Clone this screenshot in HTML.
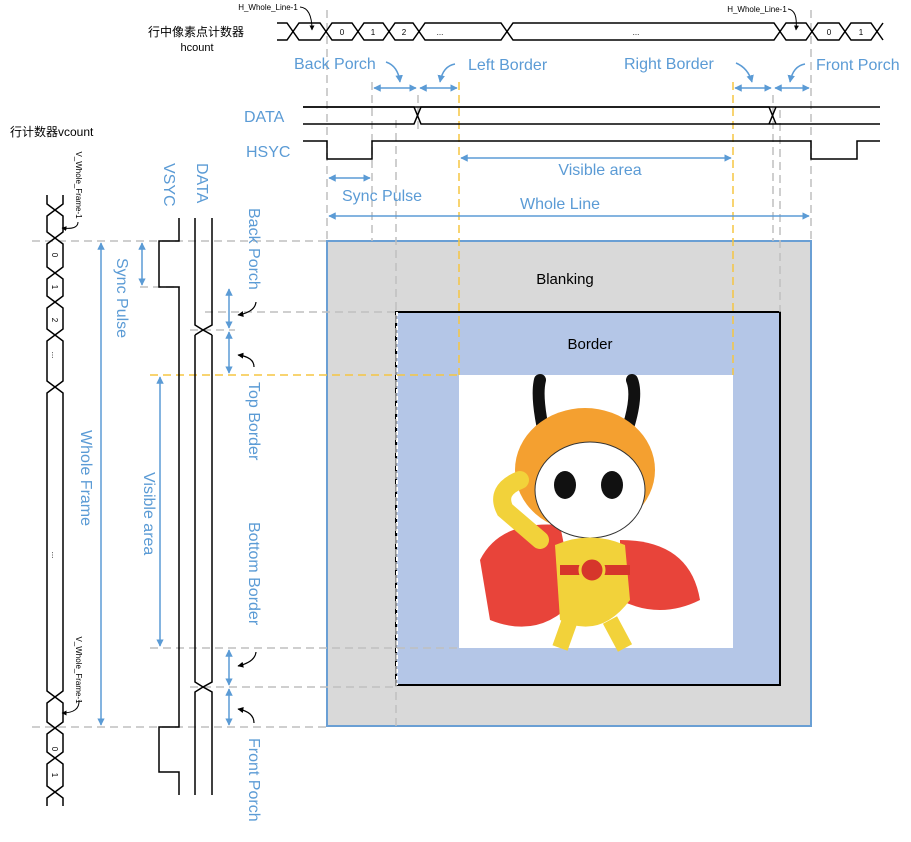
<!DOCTYPE html>
<html><head><meta charset="utf-8"><style>body{margin:0;background:#fff}svg{display:block}</style></head><body>
<svg width="911" height="842" viewBox="0 0 911 842" xmlns="http://www.w3.org/2000/svg" font-family="Liberation Sans, Noto Sans CJK SC, sans-serif">
<defs>
<marker id="a" viewBox="0 0 10 10" refX="9" refY="5" markerWidth="5" markerHeight="5" orient="auto-start-reverse"><path d="M0,0L10,5L0,10z" fill="#5b9bd5"/></marker>
<marker id="k" viewBox="0 0 10 10" refX="9" refY="5" markerWidth="5" markerHeight="5" orient="auto"><path d="M0,0L10,5L0,10z" fill="#000"/></marker>
</defs>
<!-- big rects -->
<rect x="327" y="241" width="484" height="485" fill="#d9d9d9" stroke="#6a9fd4" stroke-width="2"/>
<rect x="396" y="312" width="384" height="373" fill="#b4c6e7" stroke="#000" stroke-width="2"/>
<line x1="397" y1="312" x2="397" y2="685" stroke="#fff" stroke-width="2" stroke-dasharray="4 3"/>
<rect x="459" y="375" width="274" height="273" fill="#fff"/>
<text x="565" y="284" font-size="15" text-anchor="middle">Blanking</text>
<text x="590" y="349" font-size="15" text-anchor="middle">Border</text>
<!-- monkey -->
<g>
<path d="M480,560 Q500,520 560,525 L575,600 Q540,640 490,620 Z" fill="#e8443a"/>
<path d="M620,540 Q690,540 700,600 Q660,620 620,600Z" fill="#e8443a"/>
<path d="M548,450 Q535,400 540,380" stroke="#111" stroke-width="12" fill="none" stroke-linecap="round"/>
<path d="M620,450 Q640,400 632,380" stroke="#111" stroke-width="12" fill="none" stroke-linecap="round"/>
<ellipse cx="585" cy="470" rx="70" ry="62" fill="#f4a030"/>
<ellipse cx="590" cy="490" rx="55" ry="48" fill="#fff" stroke="#333"/>
<ellipse cx="565" cy="485" rx="11" ry="14" fill="#111"/>
<ellipse cx="612" cy="485" rx="11" ry="14" fill="#111"/>
<path d="M520,480 Q495,490 505,510 L540,540" stroke="#f2d23a" stroke-width="18" fill="none" stroke-linecap="round"/>
<path d="M555,545 Q590,530 625,545 L630,600 Q600,640 560,620 Z" fill="#f2d23a"/>
<path d="M570,620 L560,648 M610,620 L625,648" stroke="#f2d23a" stroke-width="16"/>
<rect x="560" y="565" width="70" height="10" fill="#d6362b"/>
<circle cx="592" cy="570" r="12" fill="#d6362b" stroke="#f2d23a" stroke-width="3"/>
</g>
<!-- dashed verticals -->
<g stroke="#bfbfbf" stroke-width="1.5" stroke-dasharray="8 5" fill="none">
<line x1="327" y1="10" x2="327" y2="241"/>
<line x1="372" y1="82" x2="372" y2="241"/>
<line x1="396" y1="120" x2="396" y2="726"/>
<line x1="418" y1="95" x2="418" y2="130"/>
<line x1="773" y1="95" x2="773" y2="241"/>
<line x1="780" y1="110" x2="780" y2="312"/>
<line x1="811" y1="10" x2="811" y2="241"/>
<line x1="32" y1="241" x2="327" y2="241"/>
<line x1="140" y1="287" x2="180" y2="287"/>
<line x1="205" y1="312" x2="396" y2="312"/>
<line x1="190" y1="330" x2="235" y2="330"/>
<line x1="150" y1="648" x2="459" y2="648"/>
<line x1="190" y1="687" x2="396" y2="687"/>
<line x1="32" y1="727" x2="327" y2="727"/>
</g>
<g stroke="#f5c542" stroke-width="1.5" stroke-dasharray="8 5">
<line x1="459" y1="82" x2="459" y2="375"/>
<line x1="733" y1="82" x2="733" y2="375"/>
<line x1="150" y1="375" x2="459" y2="375"/>
</g>
<!-- hcount bus -->
<g stroke="#000" stroke-width="1.5" fill="none">
<path d="M277,23 H287 L293,31.5 L299,23 H320 L326,31.5 L332,23 H352 L358,31.5 L364,23 H383 L389,31.5 L395,23 H413 L419,31.5 L425,23 H501 L507,31.5 L513,23 H774 L780,31.5 L786,23 H806 L812,31.5 L818,23 H839 L845,31.5 L851,23 H871 L877,31.5 L883,23"/>
<path d="M277,40 H287 L293,31.5 L299,40 H320 L326,31.5 L332,40 H352 L358,31.5 L364,40 H383 L389,31.5 L395,40 H413 L419,31.5 L425,40 H501 L507,31.5 L513,40 H774 L780,31.5 L786,40 H806 L812,31.5 L818,40 H839 L845,31.5 L851,40 H871 L877,31.5 L883,40"/>
<!-- DATA -->
<path d="M303,107 H414 L421,124 H880 M303,124 H414 L421,107 H880" />
<path d="M303,107 H769 L776,124 M769,124 L776,107"/>
<!-- HSYC -->
<path d="M303,141 H327 V159 H372 V141 H811 V159 H857 V141 H880"/>
<!-- vcount bus -->
<path d="M47,195 V204 L55,210 L47,216 V232 L55,238 L47,244 V267 L55,273 L47,279 V296 L55,302 L47,308 V329 L55,335 L47,341 V381 L55,387 L47,393 V691 L55,697 L47,703 V722 L55,728 L47,734 V752 L55,758 L47,764 V786 L55,792 L47,798 V806"/>
<path d="M63,195 V204 L55,210 L63,216 V232 L55,238 L63,244 V267 L55,273 L63,279 V296 L55,302 L63,308 V329 L55,335 L63,341 V381 L55,387 L63,393 V691 L55,697 L63,703 V722 L55,728 L63,734 V752 L55,758 L63,764 V786 L55,792 L63,798 V806"/>
<!-- VSYC -->
<path d="M179,218 V241 H159 V287 H179 V727 H159 V772 H179 V795"/>
<!-- vDATA -->
<path d="M195,218 V325 L203,330 L212,325 V218 M195,795 V692 L203,687 L212,692 V795 M195,335 L203,330 L212,335 M195,335 V682 L203,687 L212,682 V335"/>
</g>
<!-- small labels -->
<g font-size="8" text-anchor="middle">
<text x="342" y="35">0</text><text x="373" y="35">1</text><text x="404" y="35">2</text><text x="440" y="35">...</text><text x="636" y="35">...</text><text x="829" y="35">0</text><text x="861" y="35">1</text>
<text x="268" y="10">H_Whole_Line-1</text><text x="757" y="12">H_Whole_Line-1</text>
</g>
<g font-size="8" text-anchor="middle">
<text transform="translate(52,255) rotate(90)">0</text>
<text transform="translate(52,287) rotate(90)">1</text>
<text transform="translate(52,320) rotate(90)">2</text>
<text transform="translate(52,355) rotate(90)">...</text>
<text transform="translate(52,555) rotate(90)">...</text>
<text transform="translate(52,749) rotate(90)">0</text>
<text transform="translate(52,775) rotate(90)">1</text>
<text transform="translate(76,185) rotate(90)">V_Whole_Frame-1</text>
<text transform="translate(76,670) rotate(90)">V_Whole_Frame-1</text>
</g>
<g stroke="#000" stroke-width="1" fill="none">
<path d="M300,7 Q312,8 312,30" marker-end="url(#k)"/>
<path d="M788,9 Q798,10 796,30" marker-end="url(#k)"/>
<path d="M78,222 Q78,230 62,228" marker-end="url(#k)"/>
<path d="M79,700 Q80,713 62,713" marker-end="url(#k)"/>
</g>
<text x="148" y="36" font-size="12" font-family="Liberation Sans, Noto Sans CJK SC, sans-serif">行中像素点计数器</text>
<text x="197" y="51" font-size="11" text-anchor="middle">hcount</text>
<text x="10" y="136" font-size="12">行计数器vcount</text>
<!-- blue arrows -->
<g stroke="#5b9bd5" stroke-width="1.5" marker-start="url(#a)" marker-end="url(#a)">
<line x1="374" y1="88" x2="416" y2="88"/>
<line x1="420" y1="88" x2="457" y2="88"/>
<line x1="735" y1="88" x2="771" y2="88"/>
<line x1="775" y1="88" x2="809" y2="88"/>
<line x1="461" y1="158" x2="731" y2="158"/>
<line x1="329" y1="178" x2="370" y2="178"/>
<line x1="329" y1="216" x2="809" y2="216"/>
<line x1="142" y1="243" x2="142" y2="285"/>
<line x1="101" y1="243" x2="101" y2="725"/>
<line x1="160" y1="377" x2="160" y2="646"/>
<line x1="229" y1="289" x2="229" y2="328"/>
<line x1="229" y1="332" x2="229" y2="373"/>
<line x1="229" y1="650" x2="229" y2="685"/>
<line x1="229" y1="689" x2="229" y2="725"/>
</g>
<g stroke="#5b9bd5" stroke-width="1.5" fill="none">
<path d="M386,62 Q398,66 400,82" marker-end="url(#a)"/>
<path d="M455,64 Q443,66 440,82" marker-end="url(#a)"/>
<path d="M736,63 Q748,68 752,82" marker-end="url(#a)"/>
<path d="M805,64 Q793,66 790,82" marker-end="url(#a)"/>
</g>
<g stroke="#000" stroke-width="1.2" fill="none">
<path d="M256,302 Q255,312 238,315" marker-end="url(#k)"/>
<path d="M254,367 Q254,357 238,355" marker-end="url(#k)"/>
<path d="M256,652 Q255,662 238,666" marker-end="url(#k)"/>
<path d="M254,723 Q254,712 238,709" marker-end="url(#k)"/>
</g>
<g fill="#5b9bd5" font-size="16">
<text x="294" y="69">Back Porch</text>
<text x="468" y="70">Left Border</text>
<text x="624" y="69">Right Border</text>
<text x="816" y="70">Front Porch</text>
<text x="244" y="122">DATA</text>
<text x="246" y="157">HSYC</text>
<text x="600" y="175" text-anchor="middle">Visible area</text>
<text x="342" y="201">Sync Pulse</text>
<text x="560" y="209" text-anchor="middle">Whole Line</text>
<text transform="translate(164,163) rotate(90)">VSYC</text>
<text transform="translate(197,163) rotate(90)">DATA</text>
<text transform="translate(249,208) rotate(90)">Back Porch</text>
<text transform="translate(117,258) rotate(90)">Sync Pulse</text>
<text transform="translate(249,382) rotate(90)">Top Border</text>
<text transform="translate(81,430) rotate(90)">Whole Frame</text>
<text transform="translate(144,472) rotate(90)">Visible area</text>
<text transform="translate(249,522) rotate(90)">Bottom Border</text>
<text transform="translate(249,738) rotate(90)">Front Porch</text>
</g>
</svg>
</body></html>
